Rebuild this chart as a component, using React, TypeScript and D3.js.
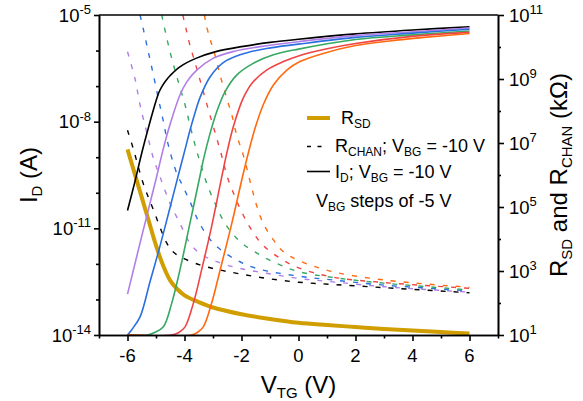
import React, { useEffect, useRef } from "react";
import * as d3 from "d3";

// V_TG axis
const vtgMajor = [-6, -4, -2, 0, 2, 4, 6];
const vtgMinor = [-7, -5, -3, -1, 1, 3, 5, 7];
// decades (exponents) for the two log axes
const idMajor = [-14, -11, -8, -5];
const idMinor = [-13, -12, -10, -9, -7, -6];
const rMajor = [1, 3, 5, 7, 9, 11];
const rMinor = [2, 4, 6, 8, 10];

// back gate steps, -10 V to -35 V
const vbg = [-10, -15, -20, -25, -30, -35];
const colors = ["#000000", "#b07ee6", "#2a6fe0", "#35a862", "#f04444", "#ff6a10"];

// I_D, [V_TG, log10(I / A)]
const idBlack = [[-6, -10.5], [-5.75, -9.72], [-5.5, -8.88], [-5.25, -8.12], [-5, -7.42], [-4.9, -7.18], [-4.8, -7.02], [-4.65, -6.84], [-4.5, -6.7], [-4.15, -6.45], [-3.6, -6.22], [-2.9, -6.03], [-2, -5.89], [-1, -5.77], [0, -5.68], [2, -5.53], [4, -5.42], [6, -5.33]];
const idPurple = [[-6, -12.85], [-5.5, -11.22], [-5, -9.62], [-4.74, -8.75], [-4.5, -8.06], [-4.16, -7.25], [-3.92, -6.88], [-3.57, -6.55], [-3, -6.22], [-2.3, -6.03], [-1.35, -5.89], [0, -5.75], [2, -5.58], [4, -5.47], [6, -5.37]];
const idBlue = [[-6, -14], [-5.85, -13.85], [-5.56, -13.49], [-5.21, -12.5], [-4.86, -11.5], [-4.51, -10.42], [-4.16, -9.33], [-3.98, -8.78], [-3.81, -8.25], [-3.63, -7.75], [-3.46, -7.33], [-3.11, -6.75], [-2.64, -6.34], [-2.05, -6.12], [-1.12, -5.94], [0, -5.82], [2, -5.63], [4, -5.51], [6, -5.4]];
const idGreen = [[-6, -14], [-5.3, -14], [-5.05, -13.93], [-4.74, -13.77], [-4.45, -13.11], [-4.16, -12.17], [-3.81, -10.86], [-3.45, -9.5], [-3.34, -9.08], [-3.11, -8.35], [-2.87, -7.72], [-2.58, -7.16], [-2.17, -6.69], [-1.59, -6.36], [-0.88, -6.12], [0, -5.96], [2, -5.69], [4, -5.56], [6, -5.45]];
const idRed = [[-6, -14], [-4.45, -14], [-4.2, -13.93], [-3.98, -13.77], [-3.69, -13.11], [-3.4, -12.17], [-3.05, -10.95], [-2.7, -9.58], [-2.52, -8.9], [-2.29, -8.15], [-1.94, -7.34], [-1.59, -6.88], [-1.12, -6.55], [-0.53, -6.31], [0, -6.15], [1, -5.95], [2, -5.8], [4, -5.6], [6, -5.49]];
const idOrange = [[-6, -14], [-3.75, -14], [-3.55, -13.93], [-3.34, -13.77], [-3.05, -13.11], [-2.75, -12.17], [-2.34, -10.86], [-1.95, -9.5], [-1.76, -8.88], [-1.53, -8.2], [-1.24, -7.53], [-0.88, -6.97], [-0.41, -6.55], [0.05, -6.31], [0.87, -6.08], [2, -5.86], [3.2, -5.73], [4.4, -5.63], [6, -5.52]];

// R_CHAN, [V_TG, log10(R / kOhm)]
const rchBlack = [[-6, 7.4], [-5.8, 6.83], [-5.45, 5.74], [-5.09, 4.91], [-4.62, 3.87], [-4.4, 3.6], [-4.16, 3.45], [-3.46, 3.19], [-2.75, 3.03], [-2.05, 2.91], [-1.12, 2.77], [0, 2.65], [1.2, 2.58], [3, 2.48], [6, 2.32]];
const rchPurple = [[-6, 9.85], [-5.74, 9.02], [-5.56, 8.19], [-5.33, 7.35], [-5.09, 6.52], [-4.86, 5.95], [-4.51, 5.12], [-4.16, 4.49], [-3.81, 3.87], [-3.46, 3.55], [-2.87, 3.29], [-2.05, 3.08], [-1.12, 2.93], [0, 2.77], [1.2, 2.66], [3, 2.51], [6, 2.34]];
const rchBlue = [[-5.56, 11], [-5.45, 10.58], [-5.27, 9.85], [-5.09, 9.12], [-4.92, 8.4], [-4.74, 7.67], [-4.57, 6.94], [-4.27, 6.05], [-4.04, 5.62], [-3.75, 5.05], [-3.46, 4.47], [-2.99, 3.87], [-2.29, 3.4], [-1.47, 3.08], [0, 2.84], [1.2, 2.72], [3, 2.56], [6, 2.38]];
const rchGreen = [[-4.8, 11], [-4.62, 10.27], [-4.45, 9.65], [-4.22, 8.92], [-3.98, 8.19], [-3.81, 7.56], [-3.63, 6.94], [-3.46, 6.42], [-3.22, 5.74], [-2.93, 5.12], [-2.58, 4.49], [-2.05, 3.92], [-1.35, 3.5], [-0.77, 3.24], [0, 2.98], [1.2, 2.8], [3, 2.62], [6, 2.41]];
const rchRed = [[-4.06, 11], [-3.95, 10.58], [-3.81, 10.06], [-3.57, 9.33], [-3.34, 8.6], [-3.11, 7.88], [-2.87, 7.15], [-2.64, 6.42], [-2.52, 6.0], [-2.23, 5.32], [-1.94, 4.75], [-1.59, 4.2], [-1.24, 3.8], [-0.65, 3.4], [0, 3.1], [1.2, 2.81], [3, 2.64], [6, 2.46]];
const rchOrange = [[-3.3, 11], [-3.25, 10.74], [-3.11, 10.27], [-2.93, 9.75], [-2.75, 9.12], [-2.52, 8.4], [-2.34, 7.88], [-2.17, 7.25], [-1.94, 6.63], [-1.64, 5.6], [-1.47, 5.05], [-1.24, 4.49], [-0.88, 3.97], [-0.53, 3.6], [0, 3.33], [1.2, 2.98], [3, 2.72], [6, 2.49]];

// R_SD, [V_TG, log10(R / kOhm)]
const rsd = [[-6, 6.8], [-5.75, 6.05], [-5.5, 5.3], [-5.25, 4.55], [-5, 3.8], [-4.75, 3.17], [-4.5, 2.7], [-4.25, 2.43], [-4, 2.24], [-3.5, 2.03], [-3, 1.86], [-2, 1.65], [-1, 1.5], [0, 1.38], [1, 1.31], [2, 1.25], [3, 1.19], [4, 1.14], [5, 1.09], [6, 1.05]];

const idCurves = [idBlack, idPurple, idBlue, idGreen, idRed, idOrange];
const rchCurves = [rchBlack, rchPurple, rchBlue, rchGreen, rchRed, rchOrange];

const width = 583;
const height = 401;
const margin = { top: 15, right: 85, bottom: 66, left: 99 };
const font = "'Liberation Sans', Arial, sans-serif";
const gold = "#d09e00";

const Axis = ({ scale, orient, values, size, transform }) => {
  const ref = useRef(null);
  useEffect(() => {
    const gen =
      orient === "bottom"
        ? d3.axisBottom(scale)
        : orient === "left"
        ? d3.axisLeft(scale)
        : d3.axisRight(scale);
    gen.tickValues(values).tickSize(size).tickSizeOuter(0).tickFormat(() => "");
    const g = d3.select(ref.current);
    g.call(gen);
    g.selectAll("path,line").attr("stroke", "#000").attr("stroke-width", 1.6);
  }, [scale, orient, values, size]);
  return <g ref={ref} transform={transform} />;
};

const Sup = ({ base, exp, ...rest }) => (
  <text {...rest}>
    {base}
    <tspan dy={-7.5} fontSize={13}>{exp}</tspan>
  </text>
);

export default function App() {
  const x0 = margin.left;
  const x1 = width - margin.right;
  const y0 = height - margin.bottom;
  const y1 = margin.top;

  const x = d3.scaleLinear().domain([-7, 7]).range([x0, x1]);
  const yI = d3.scaleLog().domain([1e-14, 1e-5]).range([y0, y1]);
  const yR = d3.scaleLog().domain([1e1, 1e11]).range([y0, y1]);

  const lineI = d3
    .line()
    .x((d) => x(d[0]))
    .y((d) => yI(Math.pow(10, d[1])))
    .curve(d3.curveCatmullRom.alpha(0.5));
  const lineR = d3
    .line()
    .x((d) => x(d[0]))
    .y((d) => yR(Math.pow(10, d[1])))
    .curve(d3.curveCatmullRom.alpha(0.5));

  const p10 = (e) => Math.pow(10, e);

  return (
    <svg
      width={width}
      height={height}
      style={{ position: "absolute", left: 0, top: 0, background: "#fff" }}
      fontFamily={font}
    >
      <defs>
        <clipPath id="plot">
          <rect x={x0} y={y1} width={x1 - x0} height={y0 - y1} />
        </clipPath>
      </defs>

      <g clipPath="url(#plot)" fill="none">
        <path d={lineR(rsd)} stroke={gold} strokeWidth={4} />
        {rchCurves.map((c, i) => (
          <path
            key={"r" + vbg[i]}
            d={lineR(c)}
            stroke={colors[i]}
            strokeWidth={1.4}
            strokeDasharray="5,8"
          />
        ))}
        {idCurves.map((c, i) => (
          <path key={"i" + vbg[i]} d={lineI(c)} stroke={colors[i]} strokeWidth={1.6} />
        ))}
      </g>

      {/* frame */}
      <line x1={x0} x2={x1} y1={y1} y2={y1} stroke="#000" strokeWidth={1.6} />

      <Axis scale={x} orient="bottom" values={vtgMinor} size={3.5} transform={`translate(0,${y0})`} />
      <Axis scale={x} orient="bottom" values={vtgMajor} size={6} transform={`translate(0,${y0})`} />
      <Axis scale={yI} orient="left" values={idMinor.map(p10)} size={3} transform={`translate(${x0},0)`} />
      <Axis scale={yI} orient="left" values={idMajor.map(p10)} size={5} transform={`translate(${x0},0)`} />
      <Axis scale={yR} orient="right" values={rMinor.map(p10)} size={3} transform={`translate(${x1},0)`} />
      <Axis scale={yR} orient="right" values={rMajor.map(p10)} size={6} transform={`translate(${x1},0)`} />

      <g fontSize={18.5} fill="#000">
        {vtgMajor.map((v) => (
          <text key={v} x={x(v)} y={362} textAnchor="middle">
            {v}
          </text>
        ))}
        {idMajor.map((e) => (
          <Sup key={e} base="10" exp={e} x={91} y={yI(p10(e)) + 6.5} textAnchor="end" />
        ))}
        {rMajor.map((e) => (
          <Sup key={e} base="10" exp={e} x={509} y={yR(p10(e)) + 6.5} textAnchor="start" />
        ))}
      </g>

      {/* axis titles */}
      <g fontSize={24} fill="#000">
        <text x={(x0 + x1) / 2} y={393} textAnchor="middle">
          V<tspan fontSize={15} dy={5}>TG</tspan>
          <tspan dy={-5}> (V)</tspan>
        </text>
        <text transform={`translate(37,175) rotate(-90)`} textAnchor="middle">
          I<tspan fontSize={15} dy={5}>D</tspan>
          <tspan dy={-5}> (A)</tspan>
        </text>
        <text transform={`translate(567,175) rotate(-90)`} textAnchor="middle">
          R<tspan fontSize={15} dy={5}>SD</tspan>
          <tspan dy={-5}> and R</tspan>
          <tspan fontSize={15} dy={5}>CHAN</tspan>
          <tspan dy={-5}> (kΩ)</tspan>
        </text>
      </g>

      {/* legend */}
      <g fontSize={18} fill="#000">
        <line x1={307} x2={330} y1={118} y2={118} stroke={gold} strokeWidth={4} />
        <text x={341} y={123.5}>
          R<tspan fontSize={12} dy={4}>SD</tspan>
        </text>
        <line x1={307} x2={322} y1={146.5} y2={146.5} stroke="#000" strokeWidth={1.4} strokeDasharray="4,6.5" />
        <text x={335} y={151.5}>
          R<tspan fontSize={12} dy={4}>CHAN</tspan>
          <tspan dy={-4}>; V</tspan>
          <tspan fontSize={12} dy={4}>BG</tspan>
          <tspan dy={-4}> = {vbg[0]} V</tspan>
        </text>
        <line x1={307} x2={330} y1={171.5} y2={171.5} stroke="#000" strokeWidth={1.6} />
        <text x={335} y={178}>
          I<tspan fontSize={12} dy={4}>D</tspan>
          <tspan dy={-4}>; V</tspan>
          <tspan fontSize={12} dy={4}>BG</tspan>
          <tspan dy={-4}> = {vbg[0]} V</tspan>
        </text>
        <text x={316} y={207}>
          V<tspan fontSize={12} dy={4}>BG</tspan>
          <tspan dy={-4}> steps of {vbg[1] - vbg[0]} V</tspan>
        </text>
      </g>
    </svg>
  );
}
